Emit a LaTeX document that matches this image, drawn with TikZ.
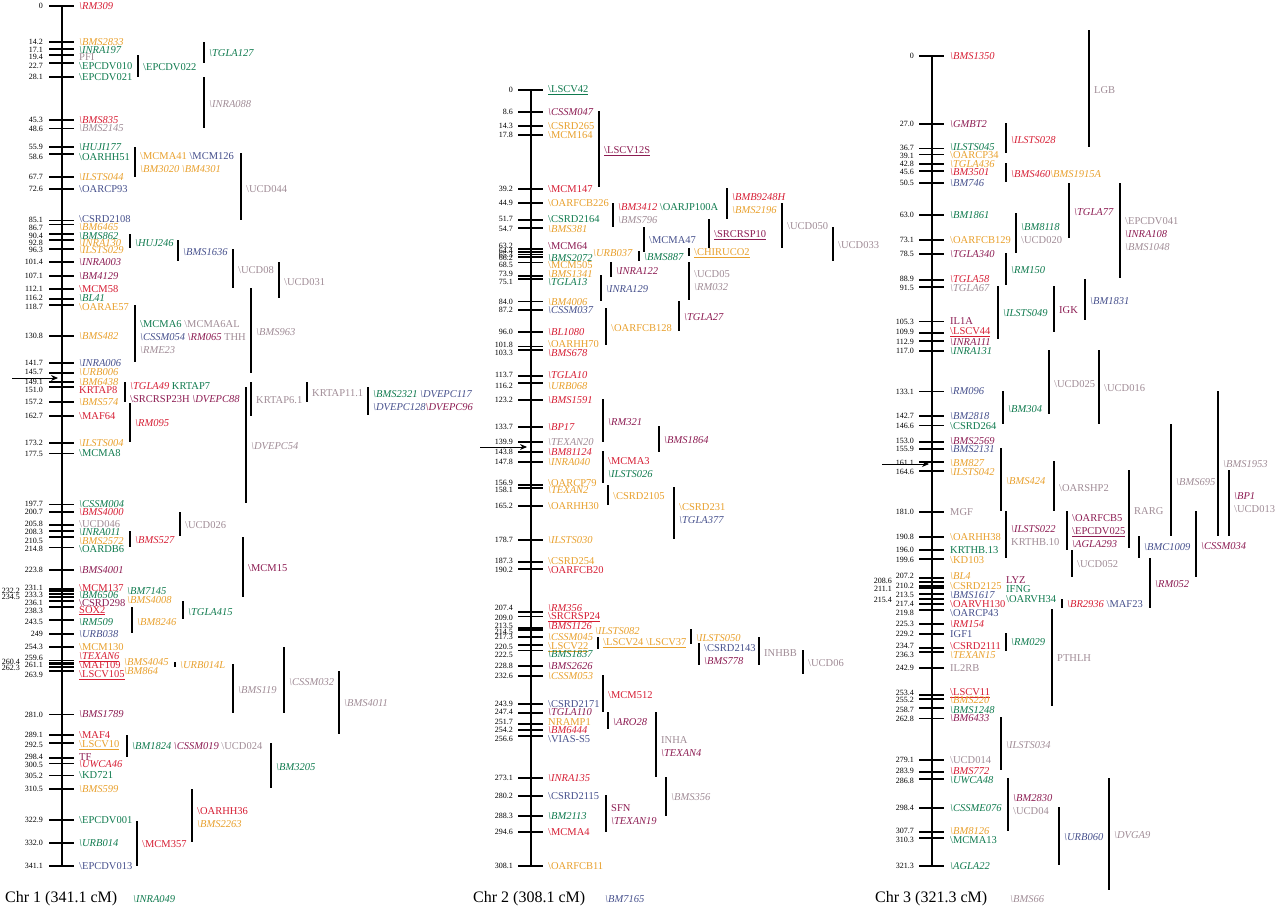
\documentclass[tikz,border=0pt]{standalone}
\usepackage{fontspec}
\setmainfont{Liberation Serif}
\usetikzlibrary{arrows.meta}
\definecolor{mkred}{RGB}{214,30,52}
\definecolor{mkorange}{RGB}{232,160,45}
\definecolor{mkgreen}{RGB}{15,122,78}
\definecolor{mkblue}{RGB}{70,80,140}
\definecolor{mkpurple}{RGB}{140,28,82}
\definecolor{mkgray}{RGB}{160,140,150}
\newcommand\bs{\textbackslash}
% marker names used beside the interval bars
\newcommand\xRi[1]{\textcolor{mkred}{\textit{\bs #1}}}
\newcommand\xRu[1]{\textcolor{mkred}{\bs #1}}
\newcommand\xOi[1]{\textcolor{mkorange}{\textit{\bs #1}}}
\newcommand\xOu[1]{\textcolor{mkorange}{\bs #1}}
\newcommand\xGi[1]{\textcolor{mkgreen}{\textit{\bs #1}}}
\newcommand\xGu[1]{\textcolor{mkgreen}{\bs #1}}
\newcommand\xBi[1]{\textcolor{mkblue}{\textit{\bs #1}}}
\newcommand\xBu[1]{\textcolor{mkblue}{\bs #1}}
\newcommand\xPi[1]{\textcolor{mkpurple}{\textit{\bs #1}}}
\newcommand\xPu[1]{\textcolor{mkpurple}{\bs #1}}
\newcommand\xYi[1]{\textcolor{mkgray}{\textit{\bs #1}}}
\newcommand\xYu[1]{\textcolor{mkgray}{\bs #1}}
\newcommand\xul[2]{\textcolor{#1}{\underline{\bs #2}}}
\tikzset{
  chraxis/.style={line width=2.6pt},
  cmtick/.style={line width=1.8pt},
  ivl/.style={line width=1.2pt},
  cmnum/.style={anchor=east, inner sep=0pt, font=\fontsize{8}{8}\selectfont},
  mk/.style={anchor=west, inner sep=0pt},
  Ri/.style={mk, text=mkred, font=\fontsize{10.5}{12}\selectfont\itshape},
  Ru/.style={mk, text=mkred, font=\fontsize{10.5}{12}\selectfont},
  Oi/.style={mk, text=mkorange, font=\fontsize{10.5}{12}\selectfont\itshape},
  Ou/.style={mk, text=mkorange, font=\fontsize{10.5}{12}\selectfont},
  Gi/.style={mk, text=mkgreen, font=\fontsize{10.5}{12}\selectfont\itshape},
  Gu/.style={mk, text=mkgreen, font=\fontsize{10.5}{12}\selectfont},
  Bi/.style={mk, text=mkblue, font=\fontsize{10.5}{12}\selectfont\itshape},
  Bu/.style={mk, text=mkblue, font=\fontsize{10.5}{12}\selectfont},
  Pi/.style={mk, text=mkpurple, font=\fontsize{10.5}{12}\selectfont\itshape},
  Pu/.style={mk, text=mkpurple, font=\fontsize{10.5}{12}\selectfont},
  Yi/.style={mk, text=mkgray, font=\fontsize{10.5}{12}\selectfont\itshape},
  Yu/.style={mk, text=mkgray, font=\fontsize{10.5}{12}\selectfont},
  ivlab/.style={anchor=west, inner sep=0pt, align=left, font=\fontsize{10.5}{13}\selectfont},
  chrtitle/.style={anchor=west, inner sep=0pt, font=\fontsize{16}{18}\selectfont},
  qtlarrow/.style={-{Stealth[length=7pt,width=6pt]}, line width=0.9pt}
}
% interval bar: name, x, top, bottom, label y, label
\newcommand\ivl[6]{%
  \draw[ivl] (#2,#3) -- (#2,#4);
  \node[ivlab] (#1) at (#2+5,#5) {#6};}

\begin{document}
\begin{tikzpicture}[x=1pt,y=-1pt]
\useasboundingbox (0,0) rectangle (1280,910);

% ---- Chr 1 ----
\begin{scope}[shift={(62,6)}]
  \draw[chraxis] (0,0) -- (0,{341.1*2.521});
  \foreach \cm/\dy/\sty/\txt [count=\i] in {0/0/Ri/\bs RM309, 14.2/0/Oi/\bs BMS2833,
    17.1/1/Gi/\bs INRA197, 19.4/2/Yu/PFI, 22.7/3/Gu/\bs EPCDV010, 28.1/0/Gu/\bs EPCDV021,
    45.3/0/Ri/\bs BMS835, 48.6/0/Yi/\bs BMS2145, 55.9/0/Gi/\bs HUJI177, 58.6/3/Gu/\bs OARHH51,
    67.7/0/Oi/\bs ILSTS044, 72.6/0/Bu/\bs OARCP93, 85.1/-1/Bu/\bs CSRD2108, 86.7/3/Oi/\bs BM6465,
    90.4/2/Gi/\bs BMS862, 92.8/3/Oi/\bs INRA130, 96.3/1/Oi/\bs ILSTS029, 101.4/0/Pi/\bs INRA003,
    107.1/0/Pi/\bs BM4129, 112.1/0/Ru/\bs MCM58, 116.2/-1/Gi/\bs BL41, 118.7/2/Ou/\bs OARAE57,
    130.8/0/Oi/\bs BMS482, 141.7/0/Bi/\bs INRA006, 145.7/-1/Oi/\bs URB006, 149.1/0/Oi/\bs BM6438,
    151.0/3/Ru/KRTAP8, 157.2/0/Oi/\bs BMS574, 162.7/0/Ru/\bs MAF64, 173.2/0/Oi/\bs ILSTS004,
    177.5/0/Gu/\bs MCMA8, 197.7/0/Gi/\bs CSSM004, 200.7/0/Ri/\bs BMS4000, 205.8/-1/Yu/\bs UCD046,
    208.3/1/Gi/\bs INRA011, 210.5/4/Oi/\bs BMS2572, 214.8/1.5/Gu/\bs OARDB6, 223.8/0/Pi/\bs BMS4001,
    231.1/-1/Ru/\bs MCM137, 233.3/1/Gi/\bs BM6506, 236.1/2/Pu/\bs CSRD298, 238.3/4/Ru/\underline{SOX2},
    243.5/2/Gi/\bs RM509, 249/0/Bi/\bs URB038, 254.3/0/Ou/\bs MCM130, 259.6/-3/Ri/\underline{\bs TEXAN6},
    261.1/1/Ru/\bs MAF109, 263.9/4/Ru/\underline{\bs LSCV105}, 281.0/0/Pi/\bs BMS1789,
    289.1/0/Ru/\bs MAF4, 292.5/2/Ou/\underline{\bs LSCV10}, 298.4/-1/Pu/TF, 300.5/1/Ri/\bs UWCA46,
    305.2/0/Gu/\bs KD721, 310.5/0/Oi/\bs BMS599, 322.9/0/Gu/\bs EPCDV001, 332.0/0/Gi/\bs URB014,
    341.1/0/Bu/\bs EPCDV013} {
    \draw[cmtick] (-13,{\cm*2.521}) -- (12,{\cm*2.521});
    \node[cmnum] (c1n\i) at (-19,{\cm*2.521+\dy}) {\cm};
    \node[\sty] (c1m\i) at (17,{\cm*2.521+\dy}) {\txt};
  }
  \foreach \cm/\dx/\dy [count=\i] in {232.2/-23/0, 234.5/-23/0, 260.4/-23/-1, 262.3/-23/1} {
    \draw[cmtick] (-13,{\cm*2.521}) -- (12,{\cm*2.521});
    \node[cmnum] (c1x\i) at (-19+\dx,{\cm*2.521+\dy}) {\cm};
  }
\end{scope}
\ivl{iEPCDV022}{138}{55}{77}{67}{\xGu{EPCDV022}}
\ivl{iTGLA127}{204}{42}{63}{53}{\xGi{TGLA127}}
\ivl{iINRA088}{204}{77}{128}{104}{\xYi{INRA088}}
\ivl{iMCMA41}{135}{147}{177}{163}{\xOu{MCMA41} \xBu{MCM126}\\\xOi{BM3020} \xOi{BM4301}}
\ivl{iUCD044}{241}{153}{220}{189}{\xYu{UCD044}}
\ivl{iHUJ246}{130}{234}{248}{243}{\xGi{HUJ246}}
\ivl{iBMS1636}{178}{240}{261}{252}{\xBi{BMS1636}}
\ivl{iUCD08}{233}{249}{288}{270}{\xYu{UCD08}}
\ivl{iUCD031}{279}{262}{298}{282}{\xYu{UCD031}}
\ivl{iMCMA6}{135}{305}{362}{337}{\xGu{MCMA6} \xYu{MCMA6AL}\\\xBi{CSSM054} \xPi{RM065} \textcolor{mkgray}{THH}\\\xYi{RME23}}
\ivl{iBMS963}{251}{288}{373}{332}{\xYi{BMS963}}
\ivl{iTGLA49}{125}{382}{402}{393}{\xRi{TGLA49} \textcolor{mkgreen}{KRTAP7}\\\xPu{SRCRSP23H} \xPi{DVEPC88}}
\ivl{iKRTAP61}{251}{382}{416}{400}{\textcolor{mkgray}{KRTAP6.1}}
\ivl{iKRTAP111}{307}{382}{402}{393}{\textcolor{mkgray}{KRTAP11.1}}
\ivl{iBMS2321}{368}{387}{415}{401}{\xGi{BMS2321} \xBi{DVEPC117}\\\xBi{DVEPC128}\xPi{DVEPC96}}
\ivl{iRM095}{130}{403}{442}{423}{\xRi{RM095}}
\ivl{iDVEPC54}{246}{387}{503}{446}{\xYi{DVEPC54}}
\ivl{iUCD026}{180}{512}{536}{525}{\xYu{UCD026}}
\ivl{iBMS527}{130}{531}{547}{540}{\xRi{BMS527}}
\ivl{iMCM15}{243}{537}{597}{568}{\xPu{MCM15}}
\node[ivlab] (fBM7145) at (127,591) {\xGi{BM7145}};
\node[ivlab] (fBMS4008) at (127,600) {\xOi{BMS4008}};
\ivl{iBM8246}{132}{607}{633}{622}{\xOi{BM8246}}
\ivl{iTGLA415}{183}{601}{619}{612}{\xGi{TGLA415}}
\node[ivlab] (fBMS4045) at (124,662) {\xOi{BMS4045}};
\node[ivlab] (fBM864) at (124,671) {\xOi{BM864}};
\ivl{iURB014L}{175}{662}{667}{665}{\xOi{URB014L}}
\ivl{iBMS119}{233}{664}{713}{690}{\xYi{BMS119}}
\ivl{iCSSM032}{284}{647}{713}{682}{\xYi{CSSM032}}
\ivl{iBMS4011}{339}{671}{734}{703}{\xYi{BMS4011}}
\ivl{iBM1824}{127}{735}{757}{746}{\xGi{BM1824} \xPi{CSSM019} \xYu{UCD024}}
\ivl{iBM3205}{271}{743}{788}{767}{\xGi{BM3205}}
\ivl{iOARHH36}{192}{789}{842}{818}{\xRu{OARHH36}\\\xOi{BMS2263}}
\ivl{iMCM357}{137}{821}{866}{844}{\xRu{MCM357}}
\coordinate (a1s) at (12,378);
\coordinate (a1e) at (58,378);
\draw[qtlarrow] (a1s) -- (a1e);
\node[chrtitle] (t1) at (5,899) {Chr 1 (341.1 cM)};
\node[Gi] (fINRA049) at (133,899) {\bs INRA049};

% ---- Chr 2 ----
\begin{scope}[shift={(531,90)}]
  \draw[chraxis] (0,0) -- (0,{308.1*2.5187});
  \foreach \cm/\dy/\sty/\txt [count=\i] in {0/0/Gu/\underline{\bs LSCV42}, 8.6/0/Pi/\bs CSSM047,
    14.3/0/Ou/\bs CSRD265, 17.8/0/Ou/\bs MCM164, 39.2/0/Ru/\bs MCM147, 44.9/0/Ou/\bs OARFCB226,
    51.7/-1/Gu/\bs CSRD2164, 54.7/1/Oi/\bs BMS381, 63.2/-3/Pu/\bs MCM64, 66.2/1/Gi/\bs BMS2072,
    68.5/2.5/Ou/\bs MCM505, 73.9/-2/Oi/\bs BMS1341, 75.1/3/Gi/\bs TGLA13, 84.0/0/Oi/\bs BM4006,
    87.2/0/Bi/\bs CSSM037, 96.0/0/Ri/\bs BL1080, 101.8/-2/Ou/\bs OARHH70, 103.3/3/Ri/\bs BMS678,
    113.7/-1/Ri/\bs TGLA10, 116.2/3/Oi/\bs URB068, 123.2/0/Ri/\bs BMS1591, 133.7/0/Ri/\bs BP17,
    139.9/0/Yi/\bs TEXAN20, 143.8/0/Ri/\bs BM81124, 147.8/0/Oi/\bs INRA040, 156.9/-2/Ou/\bs OARCP79,
    158.1/2/Oi/\bs TEXAN2, 165.2/0/Ou/\bs OARHH30, 178.7/0/Oi/\bs ILSTS030, 187.3/-1/Ou/\bs CSRD254,
    190.2/1/Ru/\bs OARFCB20, 207.4/-4/Ri/\bs RM356, 209.0/1/Ru/\underline{\bs SRCRSP24},
    213.5/-2/Ri/\bs BMS1126, 217.3/0/Oi/\bs CSSM045, 220.5/1.5/Ou/\underline{\bs LSCV22},
    222.5/4/Gi/\bs BMS1837, 228.8/0/Pi/\bs BMS2626, 232.6/0/Oi/\bs CSSM053, 243.9/0/Bu/\bs CSRD2171,
    247.4/-1/Pi/\bs TGLA110, 251.7/-2/Ou/NRAMP1, 254.2/0/Ri/\bs BM6444, 256.6/3/Bu/\bs VIAS-S5,
    273.1/0/Ri/\bs INRA135, 280.2/0/Bu/\bs CSRD2115, 288.3/0/Gi/\bs BM2113, 294.6/0/Ru/\bs MCMA4,
    308.1/0/Ou/\bs OARFCB11} {
    \draw[cmtick] (-13,{\cm*2.5187}) -- (12,{\cm*2.5187});
    \node[cmnum] (c2n\i) at (-18,{\cm*2.5187+\dy}) {\cm};
    \node[\sty] (c2m\i) at (17,{\cm*2.5187+\dy}) {\txt};
  }
  \foreach \cm/\dx/\dy [count=\i] in {64.4/0/-1, 65.3/0/0, 214.5/0/2} {
    \draw[cmtick] (-13,{\cm*2.5187}) -- (12,{\cm*2.5187});
    \node[cmnum] (c2x\i) at (-18+\dx,{\cm*2.5187+\dy}) {\cm};
  }
\end{scope}
\ivl{iLSCV12S}{599}{111}{187}{151}{\xul{mkpurple}{LSCV12S}}
\ivl{iBM3412}{613}{203}{227}{214}{\xRi{BM3412} \xGu{OARJP100A}\\\xYi{BMS796}}
\ivl{iBMB9248H}{727}{188}{219}{204}{\xRi{BMB9248H}\\\xOi{BMS2196}}
\ivl{iMCMA47}{644}{227}{252}{240}{\xBu{MCMA47}}
\ivl{iSRCRSP10}{709}{219}{248}{235}{\xul{mkpurple}{SRCRSP10}}
\ivl{iUCD050}{782}{203}{248}{226}{\xYu{UCD050}}
\ivl{iUCD033}{833}{227}{261}{245}{\xYu{UCD033}}
\node[ivlab] (fURB037) at (593,253) {\xOi{URB037}};
\ivl{iBMS887}{639}{251}{261}{257}{\xGi{BMS887}}
\ivl{iCHIRUCO2}{689}{248}{256}{253}{\xul{mkorange}{CHIRUCO2}}
\ivl{iINRA122}{611}{262}{277}{271}{\xPi{INRA122}}
\ivl{iUCD05}{689}{262}{300}{281}{\xYu{UCD05}\\\xYi{RM032}}
\ivl{iINRA129}{601}{275}{301}{289}{\xBi{INRA129}}
\ivl{iOARFCB128}{606}{308}{345}{328}{\xOu{OARFCB128}}
\ivl{iTGLA27}{679}{301}{331}{317}{\xPi{TGLA27}}
\ivl{iRM321}{603}{399}{442}{422}{\xPi{RM321}}
\ivl{iBMS1864}{659}{426}{452}{440}{\xPi{BMS1864}}
\ivl{iMCMA3}{603}{451}{483}{468}{\xRu{MCMA3}\\\xGi{ILSTS026}}
\ivl{iCSRD2105}{608}{485}{505}{496}{\xOu{CSRD2105}}
\ivl{iCSRD231}{674}{487}{539}{514}{\xOu{CSRD231}\\\xBi{TGLA377}}
\node[ivlab] (fILSTS082) at (595,631) {\xOi{ILSTS082}};
\ivl{iLSCV24}{598}{637}{649}{643}{\textcolor{mkorange}{\underline{\bs LSCV24 \bs LSCV37}}}
\ivl{iILSTS050}{691}{629}{644}{638}{\xOi{ILSTS050}}
\ivl{iCSRD2143}{699}{643}{665}{655}{\xBu{CSRD2143}\\\xPi{BMS778}}
\ivl{iINHBB}{759}{637}{665}{653}{\textcolor{mkgray}{INHBB}}
\ivl{iUCD06}{803}{650}{674}{663}{\xYu{UCD06}}
\ivl{iMCM512}{603}{675}{712}{695}{\xRu{MCM512}}
\ivl{iARO28}{608}{712}{729}{722}{\xPi{ARO28}}
\ivl{iINHA}{656}{712}{777}{747}{\textcolor{mkgray}{INHA}\\\xPi{TEXAN4}}
\ivl{iBMS356}{666}{777}{816}{797}{\xYi{BMS356}}
\ivl{iSFN}{606}{795}{832}{815}{\textcolor{mkpurple}{SFN}\\\xPi{TEXAN19}}
\coordinate (a2s) at (480,447);
\coordinate (a2e) at (527,447);
\draw[qtlarrow] (a2s) -- (a2e);
\node[chrtitle] (t2) at (473,899) {Chr 2 (308.1 cM)};
\node[Bi] (fBM7165) at (605,899) {\bs BM7165};

% ---- Chr 3 ----
\begin{scope}[shift={(932,56)}]
  \draw[chraxis] (0,0) -- (0,{321.3*2.521});
  \foreach \cm/\dy/\sty/\txt [count=\i] in {0/0/Ri/\bs BMS1350, 27.0/0/Pi/\bs GMBT2,
    36.7/-1/Gi/\bs ILSTS045, 39.1/1/Ou/\bs OARCP34, 42.8/0/Oi/\bs TGLA436, 45.6/1/Ri/\bs BM3501,
    50.5/0/Bi/\bs BM746, 63.0/0/Gi/\bs BM1861, 73.1/0/Ou/\bs OARFCB129, 78.5/0/Pi/\bs TGLA340,
    88.9/-1/Ri/\bs TGLA58, 91.5/1.5/Yi/\bs TGLA67, 105.3/0/Pu/IL1A, 109.9/-1/Ru/\underline{\bs LSCV44},
    112.9/1.5/Pi/\bs INRA111, 117.0/0/Gi/\bs INRA131, 133.1/0/Bi/\bs RM096, 142.7/0/Bi/\bs BM2818,
    146.6/0/Gu/\bs CSRD264, 153.0/-1/Pi/\bs BMS2569, 155.9/0/Bi/\bs BMS2131, 161.1/1/Oi/\bs BM827,
    164.6/1/Oi/\bs ILSTS042, 181.0/0/Yu/MGF, 190.8/0/Ou/\bs OARHH38, 196.0/0/Gu/KRTHB.13,
    199.6/1/Ou/\bs KD103, 207.2/-2/Oi/\bs BL4, 210.2/0/Ou/\bs CSRD2125, 213.5/1/Bi/\bs BMS1617,
    217.4/0/Ru/\bs OARVH130, 219.8/3/Bu/\bs OARCP43, 225.3/0/Ri/\bs RM154, 229.2/0/Bu/IGF1,
    234.7/-1.5/Ru/\bs CSRD2111, 236.3/3/Oi/\bs TEXAN15, 242.9/0/Yu/IL2RB, 253.4/-2/Ru/\underline{\bs LSCV11},
    255.2/0.5/Oi/\bs BMS220, 258.7/1.5/Gi/\bs BMS1248, 262.8/0/Pi/\bs BM6433, 279.1/0/Yu/\bs UCD014,
    283.9/-1/Ri/\bs BMS772, 286.8/1.5/Gi/\bs UWCA48, 298.4/0/Gi/\bs CSSME076, 307.7/-1/Oi/\bs BM8126,
    310.3/2/Gu/\bs MCMA13, 321.3/0/Gi/\bs AGLA22} {
    \draw[cmtick] (-13,{\cm*2.521}) -- (12,{\cm*2.521});
    \node[cmnum] (c3n\i) at (-18,{\cm*2.521+\dy}) {\cm};
    \node[\sty] (c3m\i) at (18,{\cm*2.521+\dy}) {\txt};
  }
  \foreach \cm/\dx/\dy [count=\i] in {208.6/-22/-1, 211.1/-22/1, 215.4/-22/1} {
    \draw[cmtick] (-13,{\cm*2.521}) -- (12,{\cm*2.521});
    \node[cmnum] (c3x\i) at (-18+\dx,{\cm*2.521+\dy}) {\cm};
  }
\end{scope}
\ivl{iLGB}{1089}{30}{147}{90}{\textcolor{mkgray}{LGB}}
\ivl{iILSTS028}{1006}{123}{153}{140}{\xRi{ILSTS028}}
\ivl{iBMS460}{1006}{163}{182}{174}{\xRi{BMS460}\xOi{BMS1915A}}
\ivl{iTGLA77}{1069}{183}{238}{212}{\xPi{TGLA77}}
\ivl{iEPCDV041}{1120}{183}{278}{234}{\xYu{EPCDV041}\\\xPi{INRA108}\\\xYi{BMS1048}}
\ivl{iBM8118}{1016}{213}{253}{234}{\xGi{BM8118}\\\xYu{UCD020}}
\ivl{iRM150}{1006}{253}{285}{270}{\xGi{RM150}}
\ivl{iILSTS049}{998}{286}{339}{313}{\xGi{ILSTS049}}
\ivl{iIGK}{1054}{286}{332}{310}{\textcolor{mkpurple}{IGK}}
\ivl{iBM1831}{1085}{279}{320}{301}{\xBi{BM1831}}
\ivl{iUCD025}{1049}{350}{414}{384}{\xYu{UCD025}}
\ivl{iUCD016}{1099}{350}{424}{388}{\xYu{UCD016}}
\ivl{iBM304}{1003}{391}{424}{409}{\xGi{BM304}}
\ivl{iBMS1953}{1218}{391}{536}{464}{\xYi{BMS1953}}
\ivl{iBMS695}{1171}{424}{536}{482}{\xYi{BMS695}}
\ivl{iBMS424}{1001}{448}{511}{481}{\xOi{BMS424}}
\ivl{iOARSHP2}{1054}{461}{511}{488}{\xYu{OARSHP2}}
\ivl{iRARG}{1129}{470}{548}{511}{\textcolor{mkgray}{RARG}}
\ivl{iBP1}{1229}{470}{536}{503}{\xPi{BP1}\\\xYu{UCD013}}
\ivl{iILSTS022}{1006}{511}{558}{536}{\xPi{ILSTS022}\\\textcolor{mkgray}{KRTHB.10}}
\ivl{iOARFCB5}{1067}{511}{550}{531}{\xPu{OARFCB5}\\\xul{mkpurple}{EPCDV025}\\\xPi{AGLA293}}
\ivl{iUCD052}{1072}{550}{577}{564}{\xYu{UCD052}}
\ivl{iBMC1009}{1139}{536}{558}{547}{\xBi{BMC1009}}
\ivl{iCSSM034}{1196}{511}{577}{546}{\xPi{CSSM034}}
\ivl{iRM052}{1150}{558}{608}{584}{\xPi{RM052}}
\ivl{iBR2936}{1062}{599}{608}{604}{\xRi{BR2936} \xBu{MAF23}}
\node[ivlab] (fLYZ) at (1006,580) {\textcolor{mkpurple}{LYZ}};
\node[ivlab] (fIFNG) at (1006,589) {\textcolor{mkgreen}{IFNG}};
\node[ivlab] (fOARVH34) at (1006,599) {\xGu{OARVH34}};
\ivl{iRM029}{1006}{633}{651}{642}{\xGi{RM029}}
\ivl{iPTHLH}{1052}{609}{706}{658}{\textcolor{mkgray}{PTHLH}}
\ivl{iILSTS034}{1001}{717}{770}{745}{\xYi{ILSTS034}}
\ivl{iBM2830}{1008}{778}{831}{805}{\xPi{BM2830}\\\xYu{UCD04}}
\ivl{iURB060}{1059}{807}{865}{837}{\xBi{URB060}}
\ivl{iDVGA9}{1109}{778}{890}{835}{\xYi{DVGA9}}
\coordinate (a3s) at (882,464);
\coordinate (a3e) at (929,464);
\draw[qtlarrow] (a3s) -- (a3e);
\node[chrtitle] (t3) at (875,899) {Chr 3 (321.3 cM)};
\node[Yi] (fBMS66) at (1010,899) {\bs BMS66};
\end{tikzpicture}
\end{document}
